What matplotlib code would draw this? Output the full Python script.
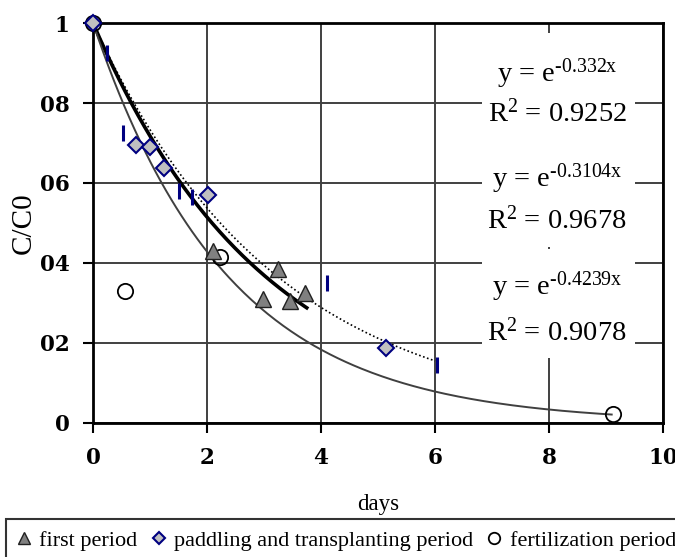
import numpy as np
import matplotlib

matplotlib.use("Agg")
import matplotlib.pyplot as plt
from matplotlib.patches import Rectangle

# measured points (C/C0 vs days)
first_x = [2.1, 3.25, 2.98, 3.46, 3.72]
first_y = [0.43, 0.385, 0.31, 0.305, 0.325]

paddle_x = [0.0, 0.75, 1.0, 1.25, 2.02, 5.14]
paddle_y = [1.0, 0.695, 0.69, 0.637, 0.57, 0.188]

fert_x = [0.0, 0.56, 2.23, 9.12]
fert_y = [1.0, 0.33, 0.415, 0.022]

bar_x = [0.25, 0.53, 1.5, 1.74, 4.1, 6.03]
bar_y = [0.925, 0.725, 0.58, 0.565, 0.35, 0.145]

# exponential trendlines shown on the chart
fit_rates = ["0.332", "0.3104", "0.4239"]
fit_r2 = ["0.9252", "0.9678", "0.9078"]
fit_xmax = [3.75, 6.0, 9.1]

yticks = [0, 0.2, 0.4, 0.6, 0.8, 1.0]
ytick_labels = ["0", "02", "04", "06", "08", "1"]
xticks = [0, 2, 4, 6, 8, 10]

plt.rcParams["mathtext.fontset"] = "custom"
plt.rcParams["mathtext.rm"] = "Liberation Serif"
plt.rcParams["mathtext.it"] = "Liberation Serif"

fig = plt.figure(figsize=(6.75, 5.57), dpi=100)
ax = fig.add_axes([0.1378, 0.2406, 0.8444, 0.7181])
ax.set_xlim(0, 10)
ax.set_ylim(0, 1)
ax.set_axisbelow(True)
ax.grid(True, color="#404040", lw=1.4)

# white boxes behind the equation labels
for y0, y1 in [(0.7075, 0.975), (0.44, 0.7075), (0.1625, 0.435)]:
    ax.add_patch(Rectangle((6.82, y0), 2.69, y1 - y0, facecolor="white",
                           edgecolor="none", zorder=1))

# trendlines
styles = [dict(color="black", lw=2.6, ls="-"),
          dict(color="black", lw=1.2, ls=(0, (1, 1.5))),
          dict(color="#404040", lw=1.4, ls="-")]
for k, xm, st in zip(fit_rates, fit_xmax, styles):
    xs = np.linspace(0, xm, 200)
    ax.plot(xs, np.exp(-float(k) * xs), zorder=2, **st)

ax.plot(bar_x, bar_y, ls="none", marker="|", ms=11, mew=2.2,
        color="#000080", zorder=3)
ax.plot(fert_x, fert_y, ls="none", marker="o", ms=11, mfc="none",
        mec="black", mew=1.3, zorder=3, clip_on=False,
        label="fertilization period")
ax.plot(first_x, first_y, ls="none", marker="^", ms=11, mfc="#808080",
        mec="#202020", mew=1.0, zorder=4, label="first period")
ax.plot(paddle_x, paddle_y, ls="none", marker="D", ms=8, mfc="#c0c0c0",
        mec="#000080", mew=1.5, zorder=4, clip_on=False,
        label="paddling and transplanting period")

# equation labels
eq_y = [(0.872, 0.775), (0.61, 0.5075), (0.34, 0.2275)]
for k, r2, (ye, yr) in zip(fit_rates, fit_r2, eq_y):
    ax.text(8.14, ye, r"y = e$^{\text{-%sx}}$" % k, ha="center",
            va="center", fontsize=20.5, family="Liberation Serif", zorder=5)
    ax.text(8.14, yr, r"R$^2$ = %s" % r2, ha="center", va="center",
            fontsize=20.5, family="Liberation Serif", zorder=5)

for s in ax.spines.values():
    s.set_linewidth(2)
ax.set_yticks(yticks)
ax.set_yticklabels(ytick_labels)
ax.set_xticks(xticks)
ax.tick_params(direction="out", length=7, width=1.5, pad=10)
for lab in ax.get_xticklabels() + ax.get_yticklabels():
    lab.set_fontfamily("DejaVu Serif")
    lab.set_fontweight("bold")
    lab.set_fontsize(15.5)

ax.set_xlabel("days", family="Liberation Serif", fontsize=16.5, labelpad=18)
ax.set_ylabel("C/C0", family="Liberation Serif", fontsize=21, labelpad=2)

handles, labels = ax.get_legend_handles_labels()
order = [1, 2, 0]
leg = fig.legend([handles[i] for i in order], [labels[i] for i in order],
                 loc="upper left", bbox_to_anchor=(0.0089, 0.0682),
                 borderaxespad=0, ncol=3, frameon=True, fancybox=False,
                 handlelength=0.6, handletextpad=0.4, columnspacing=0.65,
                 borderpad=0.5, markerscale=0.75,
                 prop={"family": "Liberation Serif", "size": 16})
leg.get_frame().set_edgecolor("black")
leg.get_frame().set_linewidth(1.5)

fig.savefig("out.png", dpi=100)
